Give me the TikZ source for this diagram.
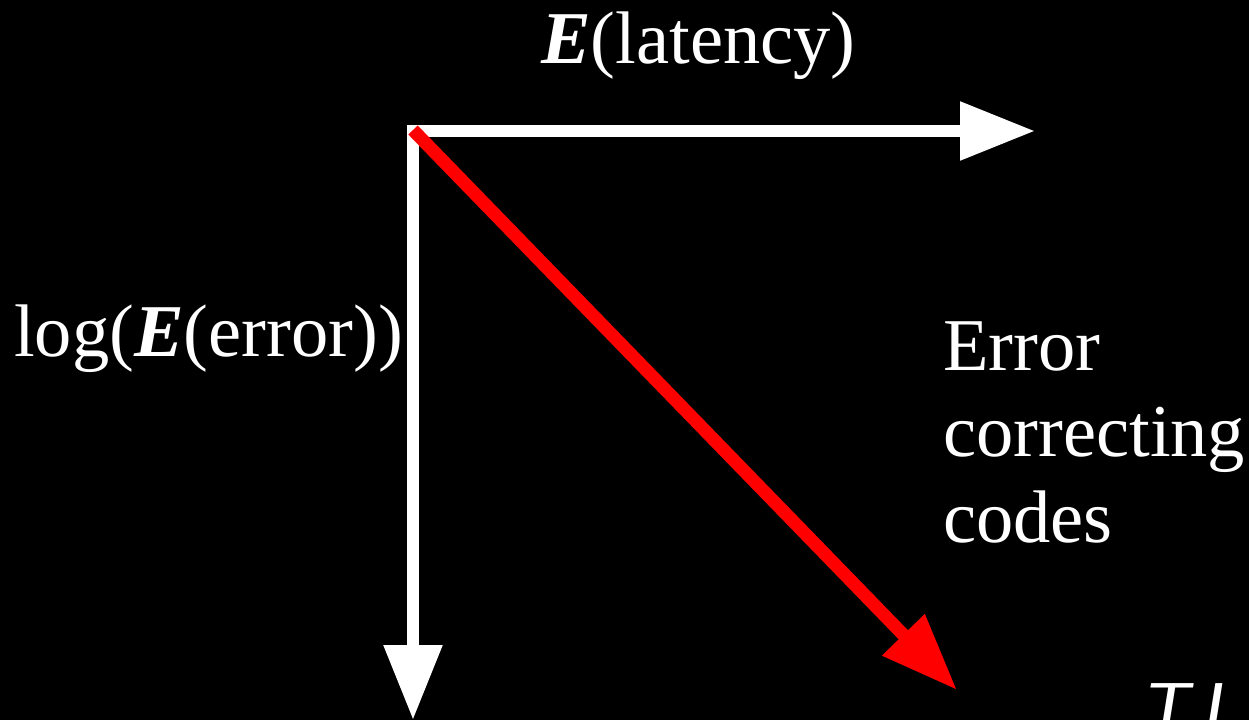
\documentclass[tikz,border=0pt]{standalone}
\usepackage{fontspec}
\setmainfont{Liberation Serif}
\newfontfamily\handfont{Liberation Sans}
\usetikzlibrary{arrows.meta}
\begin{document}
\begin{tikzpicture}[x=1pt,y=-1pt,
  axis/.style={draw=white,line width=12pt,-{Triangle[length=75pt,width=56pt]}},
  trend/.style={draw=red,line width=13pt,-{Triangle[length=77pt,width=56pt]}},
  lbl/.style={text=white,inner sep=0pt,font=\fontsize{74.5}{86}\selectfont}]
\fill[black] (0,0) rectangle (1249,720);
\useasboundingbox (0,0) rectangle (1249,720);
\coordinate (o) at (413,131);
\coordinate (ox) at (407,131);
\coordinate (hx) at (1035,131);
\coordinate (vy) at (413,720);
\coordinate (rs) at (413,130);
\coordinate (re) at (957,690);
\draw[axis] (ox) -- (hx);
\draw[axis] (o) -- (vy);
\draw[trend] (rs) -- (re);
\node[lbl,anchor=base west] (lat) at (541,63) {\textbf{\textit{E}}(latency)};
\node[lbl,anchor=base west] (err) at (14,356) {log(\textbf{\textit{E}}(error))};
\node[lbl,anchor=north west,align=left] (ecc) at (943,322) {Error\\correcting\\codes};
\node[text=white,inner sep=0pt,anchor=north west,xslant=0.16,xscale=1.3,font=\handfont\fontsize{58}{60}\selectfont] (ti) at (1150,683) {T\,I};
\end{tikzpicture}
\end{document}
